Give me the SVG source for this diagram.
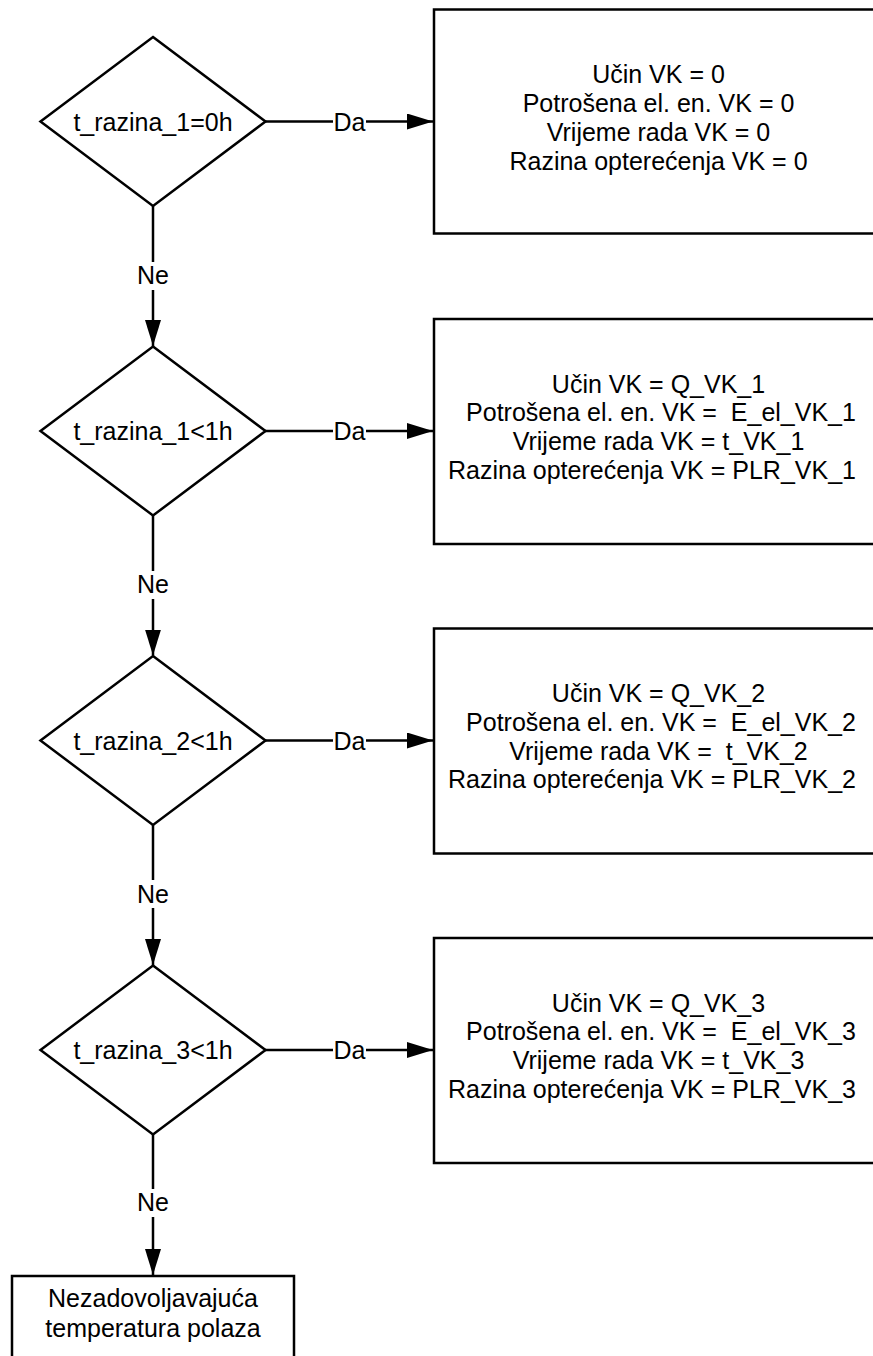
<svg xmlns="http://www.w3.org/2000/svg" width="873" height="1356" viewBox="0 0 873 1356">
<defs>
<style>
.shape{fill:#fff;stroke:#000;stroke-width:2.5}
.edge{fill:none;stroke:#000;stroke-width:2.5}
text{font-family:"Liberation Sans",Arial,sans-serif;font-size:25px;fill:#000;text-anchor:middle}
.lblbg{fill:#fff}
</style>
<marker id="arr" markerUnits="userSpaceOnUse" markerWidth="26" markerHeight="16" refX="26" refY="8" orient="auto">
<path d="M0,0 L26,8 L0,16 Z" fill="#000"/>
</marker>
</defs>
<rect width="873" height="1356" fill="#fff"/>

<g id="connectors">
<g id="e1-da"><path class="edge" d="M265,121.5 H433" marker-end="url(#arr)"/><rect class="lblbg" x="333" y="108" width="33" height="26"/><text x="349.5" y="130.5">Da</text></g>
<g id="e1-ne"><path class="edge" d="M153,206 V346" marker-end="url(#arr)"/><rect class="lblbg" x="135" y="262" width="36" height="28"/><text x="153" y="283.5">Ne</text></g>
<g id="e2-da"><path class="edge" d="M265,431 H433" marker-end="url(#arr)"/><rect class="lblbg" x="333" y="418" width="33" height="26"/><text x="349.5" y="440">Da</text></g>
<g id="e2-ne"><path class="edge" d="M153,515.5 V655.5" marker-end="url(#arr)"/><rect class="lblbg" x="135" y="571" width="36" height="28"/><text x="153" y="593">Ne</text></g>
<g id="e3-da"><path class="edge" d="M265,740.5 H433" marker-end="url(#arr)"/><rect class="lblbg" x="333" y="727" width="33" height="26"/><text x="349.5" y="749.5">Da</text></g>
<g id="e3-ne"><path class="edge" d="M153,825 V965" marker-end="url(#arr)"/><rect class="lblbg" x="135" y="880" width="36" height="28"/><text x="153" y="902.5">Ne</text></g>
<g id="e4-da"><path class="edge" d="M265,1050 H433" marker-end="url(#arr)"/><rect class="lblbg" x="333" y="1037" width="33" height="26"/><text x="349.5" y="1059">Da</text></g>
<g id="e4-ne"><path class="edge" d="M153,1134.5 V1275" marker-end="url(#arr)"/><rect class="lblbg" x="135" y="1189" width="36" height="28"/><text x="153" y="1210.5">Ne</text></g>
</g>

<g id="d1"><path class="shape" d="M153,37 L265.5,121.5 L153,206 L40.5,121.5 Z"/><text x="153" y="130.5">t_razina_1=0h</text></g>
<g id="d2"><path class="shape" d="M153,346.5 L265.5,431 L153,515.5 L40.5,431 Z"/><text x="153" y="440">t_razina_1&lt;1h</text></g>
<g id="d3"><path class="shape" d="M153,656 L265.5,740.5 L153,825 L40.5,740.5 Z"/><text x="153" y="749.5">t_razina_2&lt;1h</text></g>
<g id="d4"><path class="shape" d="M153,965.5 L265.5,1050 L153,1134.5 L40.5,1050 Z"/><text x="153" y="1059">t_razina_3&lt;1h</text></g>

<g id="b1"><rect class="shape" x="434" y="9.5" width="460" height="224"/>
<text x="658.5" y="83" xml:space="preserve">Učin VK = 0</text>
<text x="658.5" y="112" xml:space="preserve">Potrošena el. en. VK = 0</text>
<text x="658.5" y="141" xml:space="preserve">Vrijeme rada VK = 0</text>
<text x="658.5" y="170" xml:space="preserve">Razina opterećenja VK = 0</text>
</g>
<g id="b2"><rect class="shape" x="434" y="319" width="460" height="225"/>
<text x="658.5" y="392.5" xml:space="preserve">Učin VK = Q_VK_1</text>
<text x="661" y="421.3" xml:space="preserve">Potrošena el. en. VK =  E_el_VK_1</text>
<text x="658.5" y="450.1" xml:space="preserve">Vrijeme rada VK = t_VK_1</text>
<text x="652" y="478.9" xml:space="preserve">Razina opterećenja VK = PLR_VK_1</text>
</g>
<g id="b3"><rect class="shape" x="434" y="628.5" width="460" height="225"/>
<text x="658.5" y="702" xml:space="preserve">Učin VK = Q_VK_2</text>
<text x="661" y="730.8" xml:space="preserve">Potrošena el. en. VK =  E_el_VK_2</text>
<text x="658.5" y="759.6" xml:space="preserve">Vrijeme rada VK =  t_VK_2</text>
<text x="652" y="788.4" xml:space="preserve">Razina opterećenja VK = PLR_VK_2</text>
</g>
<g id="b4"><rect class="shape" x="434" y="938" width="460" height="225"/>
<text x="658.5" y="1011.5" xml:space="preserve">Učin VK = Q_VK_3</text>
<text x="661" y="1040.3" xml:space="preserve">Potrošena el. en. VK =  E_el_VK_3</text>
<text x="658.5" y="1069.1" xml:space="preserve">Vrijeme rada VK = t_VK_3</text>
<text x="652" y="1097.9" xml:space="preserve">Razina opterećenja VK = PLR_VK_3</text>
</g>
<g id="b5"><rect class="shape" x="12" y="1276" width="282" height="120"/>
<text x="153" y="1307">Nezadovoljavajuća</text>
<text x="153" y="1337">temperatura polaza</text>
</g>
</svg>
